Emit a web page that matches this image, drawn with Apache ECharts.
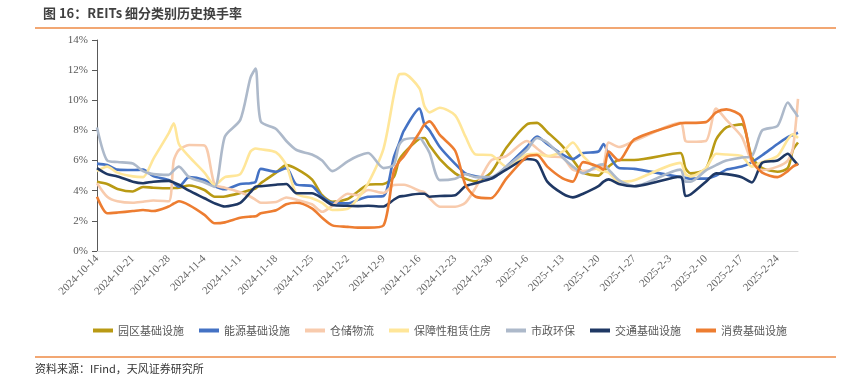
<!DOCTYPE html>
<html>
<head>
<meta charset="utf-8">
<script src="https://cdn.jsdelivr.net/npm/echarts@6/dist/echarts.min.js"></script>
<style>
  html, body { margin: 0; padding: 0; background: #fff; }
  #chart { width: 847px; height: 377px; }
</style>
</head>
<body>
<div id="chart"></div>
<script>
// trading days (plotted on a calendar-day axis)
const dates = [
  '2024-10-14','2024-10-16','2024-10-18','2024-10-21','2024-10-23','2024-10-25','2024-10-28','2024-10-29','2024-10-30',
  '2024-11-1','2024-11-4','2024-11-6','2024-11-8','2024-11-11','2024-11-13','2024-11-14','2024-11-15','2024-11-18',
  '2024-11-20','2024-11-22','2024-11-25','2024-11-27','2024-11-29',
  '2024-12-2','2024-12-4','2024-12-6','2024-12-9','2024-12-11','2024-12-12','2024-12-13','2024-12-16','2024-12-17',
  '2024-12-18','2024-12-20','2024-12-23','2024-12-25','2024-12-27','2024-12-30',
  '2025-1-2','2025-1-6','2025-1-8','2025-1-10','2025-1-13','2025-1-15','2025-1-17','2025-1-20','2025-1-21','2025-1-22',
  '2025-1-24','2025-1-27',
  '2025-2-5','2025-2-6','2025-2-7','2025-2-10','2025-2-12','2025-2-14','2025-2-17','2025-2-19','2025-2-21','2025-2-24',
  '2025-2-26','2025-2-27','2025-2-28'
];

const seriesNames = ['园区基础设施', '能源基础设施', '仓储物流', '保障性租赁住房', '市政环保', '交通基础设施', '消费基础设施'];
const seriesColors = ['#B99A14', '#4472C4', '#F8CBAD', '#FFE699', '#ADB9CA', '#1F3864', '#ED7D31'];

// turnover, %
const parkInfra = [
  4.6, 4.45, 4.12, 3.95, 4.25, 4.2, 4.16, 4.18, 4.2,
  4.35, 4.05, 3.6, 3.62, 3.85, 4.05, 4.16, 4.5, 5.2,
  5.7, 5.45, 4.75, 3.7, 3.27,
  3.45, 3.95, 4.4, 4.45, 4.9, 6.0, 6.5, 7.45, 7.5,
  7.0, 6.1, 5.15, 4.8, 4.62, 5.2,
  6.85, 8.4, 8.5, 7.9, 6.95, 6.04, 5.2, 5.0, 5.3, 5.6,
  6.04, 6.04,
  6.5, 5.5, 5.15, 5.45, 7.4, 8.2, 8.4, 6.2, 5.5, 5.26,
  5.5, 6.7, 7.2
];
const energyInfra = [
  5.8, 5.7, 5.4, 5.37, 5.4, 4.97, 4.71, 4.5, 4.27,
  4.9, 4.71, 4.3, 4.1, 4.45, 4.5, 4.6, 5.45, 5.26,
  5.5, 4.4, 4.31, 3.6, 3.2,
  3.16, 3.4, 3.6, 3.65, 6.2, 7.1, 8.0, 9.45, 8.4,
  8.0, 6.9, 5.78, 5.15, 4.95, 4.8,
  5.6, 6.9, 7.6, 7.1, 6.4, 6.1, 6.5, 6.6, 7.1, 6.4,
  5.5, 5.45,
  4.9, 4.85, 4.8, 4.8, 5.0, 5.4, 5.6, 5.9, 6.35, 7.1,
  7.55, 7.7, 7.85
];
const logistics = [
  4.5, 3.6, 3.3, 3.2, 3.27, 3.35, 3.3, 6.0, 6.7,
  7.03, 7.0, 4.4, 4.2, 3.9, 3.6, 3.4, 3.2, 3.25,
  3.55, 3.4, 3.1, 2.6, 3.0,
  3.8, 3.7, 4.05, 3.85, 4.38, 4.4, 4.4, 4.0, 3.9,
  3.5, 2.94, 2.94, 3.2, 4.2, 6.0,
  6.3, 7.3, 6.8, 6.3, 6.2, 5.4, 5.3, 5.5, 5.7, 7.2,
  6.9, 7.3,
  8.5, 7.3, 7.25, 7.3, 9.45, 8.7, 7.58, 5.9, 5.37, 5.6,
  6.0, 6.8, 10.1
];
const rentalHousing = [
  5.3, 5.6, 5.2, 4.95, 4.9, 6.1, 7.8, 8.47, 7.1,
  6.26, 5.2, 4.38, 4.9, 5.1, 6.6, 6.8, 6.75, 6.55,
  5.7, 3.8, 3.5, 3.2, 2.72,
  2.8, 3.5, 4.5, 6.8, 10.3, 11.7, 11.75, 10.8, 9.6,
  9.2, 9.5, 9.0, 7.6, 6.4, 6.37,
  5.6, 6.4, 6.45, 6.3, 6.6, 7.2, 6.3, 5.37, 5.3, 5.2,
  4.6, 4.7,
  5.85, 5.1, 4.95, 5.5, 6.45, 6.4, 6.3, 5.6, 5.9, 6.3,
  7.4, 7.75, 7.5
];
const municipal = [
  8.2, 6.0, 5.9, 5.8, 5.3, 5.1, 5.05, 5.35, 5.6,
  4.9, 4.55, 4.25, 7.6, 8.7, 11.5, 12.1, 8.6, 8.1,
  7.3, 6.7, 6.4, 6.0, 5.3,
  5.95, 6.3, 6.5, 5.5, 5.7, 7.0, 7.4, 7.5, 7.1,
  6.5, 4.7, 4.8, 5.1, 4.9, 4.9,
  5.6, 6.7, 7.5, 7.2, 6.2, 5.6, 5.15, 5.7, 5.75, 5.4,
  4.7, 4.3,
  5.4, 4.6, 4.6, 5.35, 5.7, 6.0, 6.2, 6.3, 8.0, 8.3,
  9.85, 9.4, 8.9
];
const transport = [
  5.5, 5.1, 4.95, 4.6, 4.5, 4.6, 4.65, 4.55, 4.4,
  4.0, 3.5, 3.16, 2.95, 3.2, 3.9, 4.27, 4.3, 4.4,
  4.45, 3.83, 3.83, 3.5, 3.05,
  3.0, 2.98, 3.0, 2.95, 3.4, 3.6, 3.65, 3.8, 3.8,
  3.6, 3.65, 3.7, 4.3, 4.5, 4.8,
  5.4, 6.1, 5.95, 4.6, 3.8, 3.56, 3.8, 4.3, 4.6, 4.75,
  4.45, 4.3,
  4.93, 3.65, 3.75, 4.6, 5.15, 5.1, 4.9, 4.55, 5.85, 6.0,
  6.45, 6.1, 5.7
];
const consumer = [
  3.6, 2.5, 2.55, 2.65, 2.72, 2.65, 2.95, 3.15, 3.3,
  3.05, 2.4, 1.84, 1.9, 2.2, 2.28, 2.3, 2.5, 2.7,
  3.1, 3.2, 2.83, 2.2, 1.7,
  1.6, 1.55, 1.55, 1.7, 5.3, 5.9, 6.3, 7.85, 8.4,
  8.6, 7.7, 6.65, 4.4, 3.6, 3.5,
  4.8, 6.25, 6.37, 5.6, 4.82, 4.6, 5.9, 5.6, 5.4, 6.6,
  6.0, 7.4,
  8.47, 8.5, 8.5, 8.55, 9.2, 9.4, 8.9, 6.0, 5.2, 4.9,
  5.3, 5.6, 5.75
];
const seriesValues = [parkInfra, energyInfra, logistics, rentalHousing, municipal, transport, consumer];

const startDate = '2024-10-14';
const endDate = '2025-2-28';

function dayOffset(s) {
  const p = s.split('-').map(Number);
  const q = startDate.split('-').map(Number);
  return Math.round((Date.UTC(p[0], p[1] - 1, p[2]) - Date.UTC(q[0], q[1] - 1, q[2])) / 86400000);
}
function dayLabel(n) {
  const q = startDate.split('-').map(Number);
  const d = new Date(Date.UTC(q[0], q[1] - 1, q[2]) + n * 86400000);
  return d.getUTCFullYear() + '-' + (d.getUTCMonth() + 1) + '-' + d.getUTCDate();
}

const serifFont = '"Liberation Serif", "DejaVu Serif", serif';
const cjkFont = '"Noto Sans CJK SC", sans-serif';

const chart = echarts.init(document.getElementById('chart'), null, { renderer: 'canvas' });

chart.setOption({
  backgroundColor: '#fff',
  animation: false,
  color: seriesColors,
  graphic: [
    { type: 'text', left: 43, top: 7,
      style: { text: '图 16：REITs 细分类别历史换手率', font: 'bold 13px ' + cjkFont, fill: '#404040' } },
    { type: 'line', shape: { x1: 35, y1: 28, x2: 836, y2: 28 }, style: { stroke: '#EE8A44', lineWidth: 1.5 } },
    { type: 'line', shape: { x1: 35, y1: 357, x2: 836, y2: 357 }, style: { stroke: '#EE8A44', lineWidth: 1.5 } },
    { type: 'text', left: 35, top: 363,
      style: { text: '资料来源：IFind，天风证券研究所', font: '11px ' + cjkFont, fill: '#333' } }
  ],
  grid: { left: 97, right: 49, top: 40, bottom: 126 },
  legend: {
    top: 320,
    left: 88,
    itemWidth: 20,
    itemHeight: 4,
    itemGap: 15,
    icon: 'rect',
    textStyle: { fontFamily: cjkFont, fontSize: 11, color: '#595959' },
    data: seriesNames
  },
  xAxis: {
    type: 'value',
    min: 0,
    max: dayOffset(endDate),
    interval: 7,
    axisLine: { lineStyle: { color: '#D9D9D9', width: 1 } },
    axisTick: { show: false },
    splitLine: { show: false },
    axisLabel: {
      rotate: 45,
      margin: 6,
      showMaxLabel: false,
      fontFamily: serifFont,
      fontSize: 11,
      color: '#666',
      formatter: (v) => (v % 7 === 0 ? dayLabel(v) : '')
    }
  },
  yAxis: {
    type: 'value',
    min: 0,
    max: 14,
    interval: 2,
    axisLine: { show: true, lineStyle: { color: '#595959', width: 1 } },
    axisTick: { show: true, length: 5, lineStyle: { color: '#595959' } },
    splitLine: { show: false },
    axisLabel: {
      margin: 9,
      fontFamily: serifFont,
      fontSize: 11,
      color: '#595959',
      formatter: '{value}%'
    }
  },
  series: seriesNames.map((name, k) => ({
    name: name,
    type: 'line',
    smooth: 0.25,
    showSymbol: false,
    lineStyle: { width: 2.6, color: seriesColors[k] },
    itemStyle: { color: seriesColors[k] },
    data: dates.map((d, i) => [dayOffset(d), seriesValues[k][i]])
  }))
});
</script>
</body>
</html>
